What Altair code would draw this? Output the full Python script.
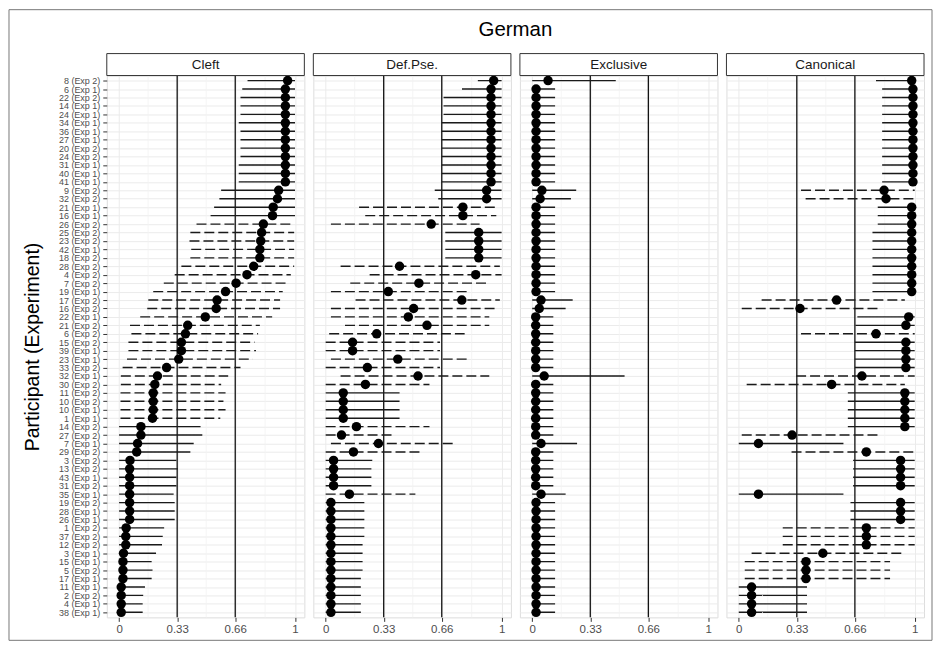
import altair as alt
import pandas as pd

labels = [
    "8 (Exp 2)", "6 (Exp 1)", "22 (Exp 2)", "14 (Exp 1)", "24 (Exp 1)", "34 (Exp 1)", "36 (Exp 1)", "27 (Exp 1)", "20 (Exp 2)", "24 (Exp 2)",
    "31 (Exp 1)", "40 (Exp 1)", "41 (Exp 1)", "9 (Exp 2)", "32 (Exp 2)", "21 (Exp 1)", "16 (Exp 1)", "26 (Exp 2)", "25 (Exp 2)", "23 (Exp 2)",
    "42 (Exp 1)", "18 (Exp 2)", "28 (Exp 2)", "4 (Exp 2)", "7 (Exp 2)", "19 (Exp 1)", "17 (Exp 2)", "16 (Exp 2)", "22 (Exp 1)", "21 (Exp 2)",
    "6 (Exp 2)", "15 (Exp 2)", "39 (Exp 1)", "23 (Exp 1)", "33 (Exp 2)", "32 (Exp 1)", "30 (Exp 2)", "11 (Exp 2)", "10 (Exp 2)", "10 (Exp 1)",
    "1 (Exp 1)", "14 (Exp 2)", "27 (Exp 2)", "7 (Exp 1)", "29 (Exp 2)", "3 (Exp 2)", "13 (Exp 2)", "43 (Exp 1)", "31 (Exp 2)", "35 (Exp 1)",
    "19 (Exp 2)", "28 (Exp 1)", "26 (Exp 1)", "1 (Exp 2)", "37 (Exp 2)", "12 (Exp 2)", "3 (Exp 1)", "15 (Exp 1)", "5 (Exp 2)", "17 (Exp 1)",
    "11 (Exp 1)", "2 (Exp 2)", "4 (Exp 1)", "38 (Exp 1)",
]

panels = ["Cleft", "Def.Pse.", "Exclusive", "Canonical"]
main_title = "German"
y_title = "Participant (Experiment)"
x_breaks = [0, 0.33, 0.66, 1]
minor_breaks = [0.165, 0.495, 0.83]
ref_lines = [0.33, 0.66]

# ---- Cleft ----
cleft_pt = [0.958, 0.945, 0.945, 0.945, 0.945, 0.945, 0.945, 0.945, 0.945, 0.945,
            0.945, 0.945, 0.945, 0.907, 0.900, 0.876, 0.872, 0.820, 0.810, 0.805,
            0.800, 0.800, 0.765, 0.727, 0.665, 0.605, 0.557, 0.552, 0.490, 0.390,
            0.377, 0.354, 0.354, 0.339, 0.270, 0.218, 0.203, 0.194, 0.194, 0.194,
            0.190, 0.124, 0.124, 0.105, 0.100, 0.062, 0.060, 0.060, 0.060, 0.060,
            0.060, 0.060, 0.060, 0.040, 0.038, 0.038, 0.025, 0.022, 0.022, 0.022,
            0.012, 0.012, 0.012, 0.012]
cleft_lo = [0.73, 0.70, 0.69, 0.69, 0.69, 0.68, 0.69, 0.69, 0.69, 0.69,
            0.68, 0.68, 0.68, 0.58, 0.57, 0.54, 0.52, 0.44, 0.405, 0.40,
            0.41, 0.405, 0.354, 0.316, 0.254, 0.194, 0.166, 0.16, 0.12, 0.062,
            0.07, 0.053, 0.053, 0.045, 0.02, 0.01, 0.01, 0.008, 0.008, 0.008,
            0.008, 0.0, 0.0, 0.0, 0.0, 0.0, 0.0, 0.0, 0.0, 0.0,
            0.0, 0.0, 0.0, 0.0, 0.0, 0.0, 0.0, 0.0, 0.0, 0.0,
            0.0, 0.0, 0.0, 0.0]
cleft_hi = [1.0, 1.0, 1.0, 1.0, 1.0, 1.0, 1.0, 1.0, 1.0, 1.0,
            1.0, 1.0, 1.0, 1.0, 1.0, 1.0, 1.0, 0.995, 0.995, 0.995,
            0.995, 0.995, 0.995, 0.976, 0.955, 0.93, 0.915, 0.915, 0.87, 0.80,
            0.79, 0.77, 0.778, 0.76, 0.69, 0.62, 0.58, 0.605, 0.593, 0.605,
            0.575, 0.463, 0.473, 0.424, 0.405, 0.326, 0.335, 0.326, 0.326, 0.31,
            0.316, 0.316, 0.316, 0.256, 0.248, 0.244, 0.21, 0.185, 0.19, 0.185,
            0.147, 0.137, 0.134, 0.134]
cleft_line = "SSSSSSSSSSSSSSSSSDDDDDDDDDDDDDDDDDDDDDDDDSSSSSSSSSSSSSSSSSSSSSSS"

# ---- Def.Pse. ----
def_pt = [0.955, 0.94, 0.94, 0.94, 0.94, 0.94, 0.94, 0.94, 0.94, 0.94,
          0.94, 0.94, 0.94, 0.915, 0.915, 0.78, 0.78, 0.60, 0.87, 0.87,
          0.87, 0.87, 0.42, 0.853, 0.53, 0.356, 0.774, 0.50, 0.47, 0.576,
          0.29, 0.153, 0.153, 0.41, 0.237, 0.525, 0.226, 0.10, 0.10, 0.10,
          0.10, 0.175, 0.09, 0.30, 0.158, 0.045, 0.045, 0.045, 0.045, 0.135,
          0.03, 0.03, 0.03, 0.03, 0.03, 0.03, 0.03, 0.03, 0.03, 0.03,
          0.03, 0.03, 0.03, 0.03]
def_lo = [0.865, 0.775, 0.67, 0.67, 0.67, 0.66, 0.66, 0.66, 0.66, 0.66,
          0.66, 0.66, 0.66, 0.62, 0.64, 0.19, 0.225, 0.03, 0.68, 0.68,
          0.68, 0.68, 0.085, 0.25, 0.14, 0.03, 0.17, 0.03, 0.03, 0.11,
          0.02, 0.0, 0.0, 0.03, 0.0, 0.085, 0.0, 0.0, 0.0, 0.0,
          0.0, 0.0, 0.0, 0.03, 0.0, 0.0, 0.0, 0.0, 0.0, 0.0,
          0.0, 0.0, 0.0, 0.0, 0.0, 0.0, 0.0, 0.0, 0.0, 0.0,
          0.0, 0.0, 0.0, 0.0]
def_hi = [1.0, 1.0, 1.0, 1.0, 1.0, 1.0, 1.0, 1.0, 1.0, 1.0,
          1.0, 1.0, 1.0, 1.0, 1.0, 0.97, 0.97, 0.875, 1.0, 1.0,
          1.0, 1.0, 0.99, 1.0, 0.93, 0.82, 0.99, 0.96, 0.93, 0.93,
          0.79, 0.65, 0.65, 0.82, 0.65, 0.93, 0.59, 0.42, 0.42, 0.42,
          0.42, 0.59, 0.38, 0.73, 0.54, 0.265, 0.26, 0.26, 0.26, 0.51,
          0.22, 0.22, 0.22, 0.22, 0.22, 0.21, 0.21, 0.21, 0.21, 0.20,
          0.20, 0.20, 0.20, 0.20]
def_line = "SSSSSSSSSSSSSSSDDDSSSSDDDDDDDDDDDDDDDSSSSDDDDSSSSDSSSSSSSSSSSSSS"

# ---- Exclusive ----
excl_pt = [0.09, 0.022, 0.022, 0.022, 0.022, 0.022, 0.022, 0.022, 0.022, 0.022,
           0.022, 0.022, 0.022, 0.055, 0.045, 0.022, 0.022, 0.022, 0.022, 0.022,
           0.022, 0.022, 0.022, 0.022, 0.022, 0.022, 0.05, 0.04, 0.02, 0.02,
           0.02, 0.02, 0.02, 0.02, 0.02, 0.068, 0.02, 0.02, 0.02, 0.02,
           0.02, 0.02, 0.02, 0.05, 0.02, 0.02, 0.02, 0.02, 0.02, 0.05,
           0.022, 0.022, 0.022, 0.022, 0.022, 0.022, 0.022, 0.022, 0.022, 0.022,
           0.022, 0.022, 0.022, 0.022]
excl_lo = [0.0, 0.0, 0.0, 0.0, 0.0, 0.0, 0.0, 0.0, 0.0, 0.0,
           0.0, 0.0, 0.0, 0.0, 0.0, 0.0, 0.0, 0.0, 0.0, 0.0,
           0.0, 0.0, 0.0, 0.0, 0.0, 0.0, 0.0, 0.0, 0.0, 0.0,
           0.0, 0.0, 0.0, 0.0, 0.0, 0.0, 0.0, 0.0, 0.0, 0.0,
           0.0, 0.0, 0.0, 0.0, 0.0, 0.0, 0.0, 0.0, 0.0, 0.0,
           0.0, 0.0, 0.0, 0.0, 0.0, 0.0, 0.0, 0.0, 0.0, 0.0,
           0.0, 0.0, 0.0, 0.0]
excl_hi = [0.475, 0.13, 0.13, 0.13, 0.13, 0.13, 0.13, 0.13, 0.13, 0.13,
           0.13, 0.13, 0.13, 0.25, 0.22, 0.13, 0.13, 0.13, 0.13, 0.13,
           0.13, 0.13, 0.13, 0.13, 0.13, 0.13, 0.23, 0.19, 0.12, 0.12,
           0.12, 0.12, 0.12, 0.12, 0.12, 0.525, 0.12, 0.12, 0.12, 0.12,
           0.12, 0.12, 0.12, 0.255, 0.12, 0.12, 0.12, 0.12, 0.12, 0.19,
           0.13, 0.13, 0.13, 0.13, 0.13, 0.13, 0.13, 0.13, 0.13, 0.13,
           0.13, 0.13, 0.13, 0.13]
excl_line = "SSSSSSSSSSSSSSSSSSSSSSSSSSSSSSSSSSSSSSSSSSSSSSSSSSSSSSSSSSSSSSSS"

# ---- Canonical ----
canon_pt = [0.983, 0.99, 0.99, 0.99, 0.99, 0.99, 0.99, 0.99, 0.99, 0.99,
            0.99, 0.99, 0.99, 0.826, 0.837, 0.983, 0.983, 0.983, 0.983, 0.983,
            0.983, 0.983, 0.983, 0.983, 0.983, 0.983, 0.556, 0.348, 0.966, 0.95,
            0.78, 0.95, 0.95, 0.95, 0.95, 0.70, 0.528, 0.944, 0.944, 0.944,
            0.944, 0.944, 0.303, 0.112, 0.725, 0.92, 0.92, 0.92, 0.92, 0.112,
            0.92, 0.92, 0.92, 0.725, 0.725, 0.725, 0.478, 0.382, 0.382, 0.382,
            0.073, 0.073, 0.073, 0.073]
canon_lo = [0.78, 0.815, 0.815, 0.815, 0.815, 0.815, 0.815, 0.815, 0.815, 0.815,
            0.815, 0.815, 0.815, 0.354, 0.38, 0.79, 0.79, 0.79, 0.76, 0.76,
            0.76, 0.76, 0.76, 0.76, 0.76, 0.76, 0.13, 0.017, 0.674, 0.663,
            0.354, 0.66, 0.66, 0.66, 0.66, 0.326, 0.045, 0.62, 0.62, 0.62,
            0.62, 0.62, 0.017, 0.0, 0.30, 0.65, 0.65, 0.65, 0.65, 0.0,
            0.635, 0.635, 0.635, 0.25, 0.25, 0.25, 0.073, 0.034, 0.034, 0.034,
            0.0, 0.0, 0.0, 0.0]
canon_hi = [1.0, 1.0, 1.0, 1.0, 1.0, 1.0, 1.0, 1.0, 1.0, 1.0,
            1.0, 1.0, 1.0, 1.0, 1.0, 1.0, 1.0, 1.0, 1.0, 1.0,
            1.0, 1.0, 1.0, 1.0, 1.0, 1.0, 0.944, 0.80, 1.0, 1.0,
            1.0, 1.0, 1.0, 1.0, 1.0, 1.0, 0.944, 1.0, 1.0, 1.0,
            1.0, 1.0, 0.80, 0.595, 1.0, 1.0, 1.0, 1.0, 1.0, 0.595,
            1.0, 1.0, 1.0, 1.0, 1.0, 1.0, 0.944, 0.86, 0.86, 0.86,
            0.388, 0.388, 0.388, 0.388]
canon_line = "SSSSSSSSSSSSSDDSSSSSSSSSSSDDSSDSSSSDDSSSSSDSDSSSSSSSSDDDDDDDSSSS"

series = {
    "Cleft": (cleft_pt, cleft_lo, cleft_hi, cleft_line),
    "Def.Pse.": (def_pt, def_lo, def_hi, def_line),
    "Exclusive": (excl_pt, excl_lo, excl_hi, excl_line),
    "Canonical": (canon_pt, canon_lo, canon_hi, canon_line),
}

FONT = "Liberation Sans"
W, H = 198, 543
GAP = 9

xscale = alt.Scale(domain=[-0.07, 1.053], nice=False, zero=False)
xaxis = alt.Axis(values=x_breaks, title=None, grid=True, gridColor="#EBEBEB", gridWidth=1,
                 domain=False, tickColor="#333333", tickSize=4, labelFontSize=11.5,
                 labelColor="#4D4D4D", labelPadding=2, labelFont=FONT,
                 labelExpr="datum.value == 0 ? '0' : (datum.value == 1 ? '1' : format(datum.value, '.2f'))")


def X(field):
    return alt.X(field, scale=xscale, axis=xaxis)


def make_panel(i, name):
    pt, lo, hi, line = series[name]
    df = pd.DataFrame({
        "participant": labels,
        "est": pt,
        "lo": lo,
        "hi": hi,
        "ltype": ["dashed" if c == "D" else "solid" for c in line],
    })
    first = i == 0
    yaxis = alt.Axis(
        title=y_title if first else None,
        labels=first, ticks=first, domain=False, grid=True, gridColor="#EBEBEB", gridWidth=1,
        labelFontSize=9, labelColor="#4D4D4D", labelOverlap=False, labelPadding=3,
        labelLimit=300, labelFont=FONT, tickSize=4, tickColor="#333333",
        titleFontSize=19.5, titleFontWeight="normal", titleColor="black", titleFont=FONT,
        titlePadding=16,
    )
    y = alt.Y("participant:N", scale=alt.Scale(type="point", domain=labels, padding=0.6), axis=yaxis)

    minor = alt.Chart(pd.DataFrame({"m": minor_breaks})).mark_rule(
        color="#F2F2F2", strokeWidth=0.8).encode(x=X("m:Q"))
    vlines = alt.Chart(pd.DataFrame({"v": ref_lines})).mark_rule(
        color="black", strokeWidth=1.2).encode(x=X("v:Q"))
    bars = alt.Chart(df).mark_rule(color="#1A1A1A", strokeWidth=1.4).encode(
        x=X("lo:Q"), x2="hi:Q", y=y,
        strokeDash=alt.StrokeDash("ltype:N", scale=alt.Scale(domain=["solid", "dashed"], range=[[1, 0], [10, 4]]), legend=None),
    )
    pts = alt.Chart(df).mark_circle(size=90, color="black", opacity=1).encode(x=X("est:Q"), y=y)
    sdf = pd.DataFrame({"panel": [name]})
    strip = alt.Chart(sdf).mark_rect(fill="#FFFFFF", stroke="#333333", strokeWidth=1).encode(
        x=alt.value(0), x2=alt.value(W), y=alt.value(-22), y2=alt.value(0))
    strip_text = alt.Chart(sdf).mark_text(fontSize=13.5, color="#1A1A1A", font=FONT).encode(
        text="panel:N", x=alt.value(W / 2), y=alt.value(-11))
    layers = [minor, vlines, bars, pts, strip, strip_text]
    if first:
        tdf = pd.DataFrame({"t": [main_title]})
        total = 4 * W + 3 * GAP
        frame = alt.Chart(tdf).mark_rect(fill=None, stroke="#777777", strokeWidth=1).encode(
            x=alt.value(-98), x2=alt.value(827), y=alt.value(-66), y2=alt.value(566))
        title_txt = alt.Chart(tdf).mark_text(fontSize=20.5, color="black", font=FONT).encode(
            text="t:N", x=alt.value(total / 2), y=alt.value(-46))
        layers = [frame] + layers + [title_txt]
    return alt.layer(*layers).properties(width=W, height=H)


chart = alt.hconcat(*[make_panel(i, n) for i, n in enumerate(panels)], spacing=GAP, bounds="flush").properties(
    padding=0
).configure_view(stroke="#333333", strokeWidth=1).configure(background="white")

chart.save("out.html", embed_options={"renderer": "svg", "actions": False})
